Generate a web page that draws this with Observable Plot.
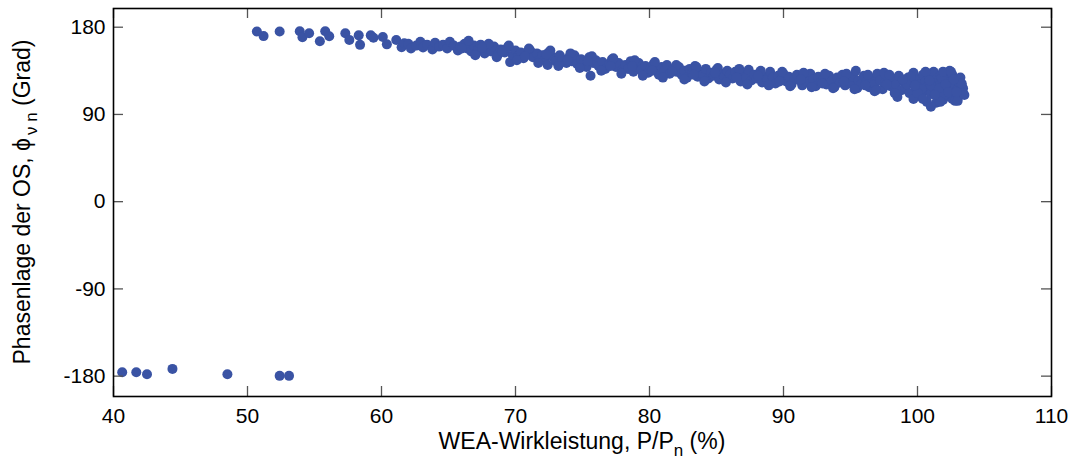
<!DOCTYPE html>
<html>
<head>
<meta charset="utf-8">
<script src="https://cdn.jsdelivr.net/npm/d3@7"></script>
<script src="https://cdn.jsdelivr.net/npm/@observablehq/plot@0.6"></script>
<style>
  body { margin: 0; background: #fff; }
  #chart svg { display: block; }
</style>
</head>
<body>
<div id="chart"></div>
<script>
// ---- data ----
const xTicks = [40, 50, 60, 70, 80, 90, 100, 110];
const yTicks = [-180, -90, 0, 90, 180];
const xTitleParts = ["WEA-Wirkleistung, P/P", "n", " (%)"];
const yTitleParts = ["Phasenlage der OS, ϕ", "ν n", " (Grad)"];

// points that wrapped around to about -180 degrees
const lowPoints = [
  [40.65, -175.9], [41.7, -175.9], [42.5, -178], [44.4, -172.5],
  [48.5, -178], [52.4, -179.7], [53.1, -179.7]
];

// sparse start of the band
const sparsePoints = [
  [50.7, 175.6], [51.2, 170.8], [52.4, 175.6], [53.9, 175.9], [54.1, 169.7],
  [54.6, 173.8], [55.4, 165.5], [55.8, 175.9], [56.1, 170.7], [57.3, 173.8],
  [57.6, 166.9], [58.3, 171.6], [58.4, 161.8], [59.2, 171.6], [59.4, 169.2],
  [60.1, 169.9], [60.4, 162.3], [61.1, 166.8], [61.5, 159.4], [61.7, 163.5]
];

// dense band
const bandPoints = [
  [62.0, 163], [62.2, 158], [62.6, 161], [62.9, 165], [63.1, 159], [63.4, 162], [63.8, 157],
  [64.0, 164], [64.3, 160], [64.6, 162], [64.9, 158], [65.1, 165], [65.4, 161], [65.7, 156],
  [65.9, 160],
  [66.2, 163], [66.4, 158], [66.7, 155], [66.9, 161], [67.2, 157], [67.4, 162], [67.7, 153],
  [67.9, 158], [68.2, 155], [68.4, 160], [68.7, 152], [68.9, 157], [69.2, 154], [69.4, 159],
  [69.6, 144], [69.8, 151], [70.0, 156],
  [70.2, 150], [70.4, 154], [70.6, 148], [70.9, 152], [71.1, 156], [71.3, 149], [71.6, 153],
  [71.8, 146], [72.0, 151], [72.2, 147], [72.4, 141], [72.5, 154], [72.8, 149], [73.0, 145],
  [73.3, 151], [73.5, 147], [73.8, 143], [74.0, 149],
  [74.2, 145], [74.4, 151], [74.6, 142], [74.9, 147], [75.1, 144], [75.3, 139], [75.6, 130],
  [75.5, 149], [75.8, 143], [76.0, 146], [76.2, 140], [76.5, 144], [76.7, 137], [77.0, 142],
  [77.2, 147], [77.5, 139], [77.7, 143], [78.0, 136],
  [78.2, 141], [78.4, 137], [78.6, 145], [78.8, 134], [79.0, 139], [79.2, 143], [79.4, 136],
  [79.7, 140], [79.9, 133], [80.1, 138], [80.3, 142], [80.5, 135], [80.7, 131], [80.9, 139],
  [81.1, 135], [81.3, 141], [81.5, 132], [81.8, 137], [82.0, 134],
  [82.2, 139], [82.4, 131], [82.6, 135], [82.8, 128], [83.0, 137], [83.2, 133], [83.4, 140],
  [83.6, 129], [83.8, 134], [84.0, 131], [84.2, 137], [84.4, 127], [84.6, 133], [84.8, 130],
  [85.0, 136], [85.2, 126], [85.4, 132], [85.6, 129], [85.8, 135], [86.0, 131],
  [86.2, 127], [86.4, 134], [86.6, 130], [86.8, 124], [87.0, 132], [87.2, 128], [87.4, 136],
  [87.6, 125], [87.8, 131], [88.0, 127], [88.2, 133], [88.4, 123], [88.6, 129], [88.8, 126],
  [89.0, 134], [89.2, 128], [89.4, 122], [89.6, 130], [89.8, 126], [90.0, 132],
  [90.2, 124], [90.4, 129], [90.6, 121], [90.8, 127], [91.0, 131], [91.2, 125], [91.4, 120],
  [91.6, 128], [91.8, 123], [92.0, 132], [92.2, 126], [92.4, 119], [92.6, 129], [92.8, 124],
  [93.0, 127], [93.2, 121], [93.4, 130], [93.6, 125], [93.8, 118], [94.0, 128],
  [94.2, 123], [94.4, 131], [94.6, 120], [94.8, 126], [95.0, 122], [95.2, 129], [95.4, 135],
  [95.5, 117], [95.6, 125], [95.8, 121], [96.0, 130], [96.2, 124], [96.4, 118], [96.6, 127],
  [96.8, 121], [97.0, 132], [97.2, 125], [97.4, 116], [97.6, 123], [97.8, 128], [98.0, 119],
  [98.2, 126], [98.4, 121], [98.6, 130], [98.8, 115], [99.0, 124], [99.1, 118], [99.3, 128],
  [99.4, 112], [99.6, 122], [99.7, 133], [99.9, 117], [100.0, 126], [100.1, 109], [100.2, 121],
  [100.4, 131], [100.5, 114], [100.6, 124], [100.7, 103], [100.8, 119], [100.9, 128], [101.0, 111],
  [101.1, 122], [101.2, 134], [101.3, 116], [101.4, 126], [101.5, 107], [101.6, 120], [101.7, 130],
  [101.8, 113], [101.9, 124], [102.0, 118], [102.1, 133], [102.2, 109], [102.3, 127], [102.4, 115],
  [102.5, 122], [102.6, 131], [102.7, 112], [102.8, 119], [102.9, 126], [103.0, 116], [103.1, 123],
  [103.2, 110], [103.3, 120], [103.4, 117], [102.6, 106], [101.9, 105],
  [99.5, 129], [100.3, 116], [100.6, 134], [101.0, 120], [101.4, 102], [101.8, 128], [102.0, 110],
  [102.4, 135], [102.8, 104], [103.2, 128], [103.4, 112], [98.5, 108], [99.7, 106], [101.0, 98],
  [101.7, 103], [103.0, 104], [101.9, 134], [102.5, 134], [103.3, 122], [103.5, 110], [97.5, 133],
  [96.8, 114], [100.0, 112], [100.9, 125], [101.6, 117], [102.1, 121], [102.7, 126], [102.3, 113],
  [100.4, 106], [99.2, 121]
];

// upper and lower edges of the band, plus middle fill
const bandEdgePoints = [
  [66.5, 166], [68.0, 163], [69.5, 161], [71.0, 158], [72.6, 156], [74.1, 153], [75.7, 150],
  [77.3, 148], [78.9, 146], [80.4, 144], [82.0, 141], [83.5, 139], [85.1, 138], [86.7, 137],
  [88.3, 135], [89.9, 134], [91.5, 133], [93.1, 132], [94.7, 132], [96.3, 131], [97.9, 131],
  [67.0, 151], [68.6, 149], [70.1, 146], [71.7, 143], [73.2, 140], [74.8, 138], [76.4, 135],
  [77.9, 132], [79.5, 130], [81.0, 128], [82.6, 126], [84.1, 124], [85.7, 123], [87.3, 121],
  [88.9, 120], [90.5, 119], [92.1, 118], [93.7, 117], [95.3, 116], [96.9, 115], [98.3, 112],
  [66.0, 158], [67.5, 159], [69.0, 155], [70.7, 150], [72.3, 152], [73.9, 146], [75.4, 145],
  [77.1, 140], [78.7, 140], [80.2, 135], [81.7, 134], [83.3, 131], [84.9, 133], [86.5, 128],
  [88.1, 130], [89.7, 124], [91.3, 126], [92.9, 122], [94.5, 124], [96.1, 120], [97.7, 121],
  [99.8, 120], [101.3, 110], [102.9, 113], [98.9, 126]
];

// ---- chart ----
const data = [...lowPoints, ...sparsePoints, ...bandPoints, ...bandEdgePoints].map(([p, phi]) => ({p, phi}));

const W = 1075, H = 466;
const mL = 113, mR = 24, mT = 8, mB = 70;
const innerW = W - mL - mR, innerH = H - mT - mB;
const tickLen = 10;

const chart = Plot.plot({
  width: W, height: H,
  marginLeft: mL, marginRight: mR, marginTop: mT, marginBottom: mB,
  style: {fontFamily: "'Liberation Sans', Arial, sans-serif", fontSize: "21px", background: "#fff", color: "#000"},
  x: {domain: [40, 110], label: null},
  y: {domain: [-201, 199.3], label: null},
  marks: [
    Plot.dot(data, {x: "p", y: "phi", r: 5, fill: "#3a53a4", stroke: "none"}),
    Plot.tickX(xTicks, {x: d => d, insetTop: innerH - tickLen, stroke: "#555", strokeWidth: 1.3}),
    Plot.tickX(xTicks, {x: d => d, insetBottom: innerH - tickLen, stroke: "#555", strokeWidth: 1.3}),
    Plot.tickY(yTicks, {y: d => d, insetRight: innerW - tickLen, stroke: "#555", strokeWidth: 1.3}),
    Plot.tickY(yTicks, {y: d => d, insetLeft: innerW - tickLen, stroke: "#555", strokeWidth: 1.3}),
    Plot.axisX({ticks: xTicks, tickSize: 0, tickPadding: 12, tickFormat: d => String(d), label: null}),
    Plot.axisY({ticks: yTicks, tickSize: 0, tickPadding: 8, tickFormat: d => String(d), label: null}),
    Plot.frame({stroke: "#000", strokeWidth: 1.6})
  ]
});
document.getElementById("chart").appendChild(chart);

// ---- axis titles with subscripts ----
const svg = d3.select(chart);
const font = "'Liberation Sans', Arial, sans-serif";
const xs = chart.scale("x"), ys = chart.scale("y");
const xMid = (xs.range[0] + xs.range[1]) / 2;
const yMid = (ys.range[0] + ys.range[1]) / 2;

const xt = svg.append("text")
  .attr("x", xMid).attr("y", 449)
  .attr("text-anchor", "middle")
  .attr("font-family", font).attr("font-size", 23).attr("fill", "#000");
xt.append("tspan").text(xTitleParts[0]);
xt.append("tspan").attr("font-size", 17).attr("dy", 7).text(xTitleParts[1]);
xt.append("tspan").attr("dy", -7).text(xTitleParts[2]);

const yt = svg.append("text")
  .attr("transform", `translate(30,${yMid}) rotate(-90)`)
  .attr("text-anchor", "middle")
  .attr("font-family", font).attr("font-size", 23).attr("fill", "#000");
yt.append("tspan").text(yTitleParts[0]);
yt.append("tspan").attr("font-size", 17).attr("dy", 7).attr("dx", 3).text(yTitleParts[1]);
yt.append("tspan").attr("dy", -7).text(yTitleParts[2]);
</script>
</body>
</html>
